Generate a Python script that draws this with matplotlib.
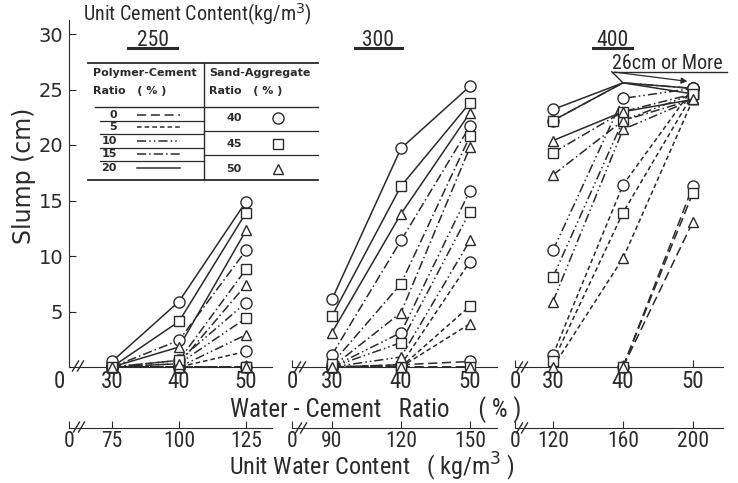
import numpy as np
import matplotlib.pyplot as plt
import matplotlib.font_manager as fm

nan = np.nan

# Data (slump in cm)
wc_ratio = [30, 40, 50]             # water-cement ratio (%)
polymer_ratio = [0, 5, 10, 15, 20]  # polymer-cement ratio (%)
sand_ratio = [40, 45, 50]           # sand-aggregate ratio (%)
cement_content = [250, 300, 400]    # unit cement content (kg/m3)

# slump_xxx[polymer index][sand index] = values at W/C 30, 40, 50
slump_250 = [
    [[0, 0, 0], [0, 0, 0], [0, 0, 0]],
    [[0, 0, 1.4], [0, 0, 0], [0, 0, 0]],
    [[0, 0.6, 5.8], [0, 0.3, 4.4], [0, 0, 2.9]],
    [[0, 2.4, 10.5], [0, 0.6, 8.8], [0, 0.3, 7.4]],
    [[0.5, 5.9, 14.9], [0, 4.1, 13.9], [0, 1.8, 12.3]],
]
slump_300 = [
    [[0, 0.2, 0.5], [0, 0, 0], [0, 0, 0]],
    [[0, 0.2, 9.5], [0, 0, 5.5], [0, 0, 3.9]],
    [[0, 3.1, 15.9], [0, 2.2, 14.0], [0, 0.9, 11.4]],
    [[1.1, 11.4, 21.7], [0.3, 7.5, 20.8], [0, 4.9, 19.8]],
    [[6.1, 19.7, 25.3], [4.6, 16.3, 23.8], [3.1, 13.8, 22.9]],
]
slump_400 = [
    [[nan, 0, 16.3], [nan, 0, 15.7], [nan, 0, 13.1]],
    [[1.1, 16.4, 25.1], [0.5, 13.9, 24.6], [0, 9.8, 24.1]],
    [[10.5, 24.2, 25.1], [8.1, 22.2, 24.6], [5.9, 21.4, 24.1]],
    [[22.2, 25.6, 25.1], [19.3, 23.0, 24.6], [17.3, 22.2, 24.1]],
    [[23.2, 25.6, 25.1], [22.2, 25.6, 24.6], [20.4, 23.0, 24.1]],
]
# series that reach "26cm or more" at W/C 40 (no marker drawn there)
over_26_400 = [(3, 0), (4, 0), (4, 1)]

# fonts: a narrow face like the scanned lettering, if one is installed
entries = fm.fontManager.ttflist
names = {f.name for f in entries}
narrow = dict(family='DejaVu Sans')
for cand in ['Liberation Sans Narrow', 'Roboto Condensed', 'Open Sans Condensed']:
    if cand in names:
        narrow = dict(family=cand)
        break
else:
    if any(f.name == 'DejaVu Sans' and 'condensed' in str(f.stretch) for f in entries):
        narrow = dict(family='DejaVu Sans', stretch='condensed')
    elif any(f.name == 'Roboto' and 'condensed' in str(f.stretch) for f in entries):
        narrow = dict(family='Roboto', stretch='condensed')
condensed_found = narrow != dict(family='DejaVu Sans')
# shrink sizes a little when only the wide face is available
fs = 1.0 if condensed_found else 0.85

ink = '#2b2b2b'
styles = [(0, (6, 3)), (0, (3, 2)), (0, (6, 2, 1, 2, 1, 2)), (0, (6, 2, 1, 2)), '-']
markers = ['o', 's', '^']
msizes = [8, 6.5, 7.5]

W, H = 738, 483
fig = plt.figure(figsize=(W / 100, H / 100), dpi=100)
fig.patch.set_facecolor('white')

# pixel layout: y of slump 0, px per cm, top of axis
y0_px, ppu_y, ymax = 367, 11.1, 31.3
ytop_px = y0_px - ymax * ppu_y
# (left, right, x at 30, x at 50) in pixels for each panel
panel_px = [(69, 272, 112, 246), (292, 497, 332, 470), (515, 723, 553, 693)]


def draw_panel(ax, data, skip40=()):
    for pi in range(len(polymer_ratio)):
        for si in range(len(sand_ratio)):
            y = np.array(data[pi][si], float)
            ax.plot(wc_ratio, y, linestyle=styles[pi], color=ink, lw=1.1,
                    zorder=2, clip_on=False)
            ym = y.copy()
            if (pi, si) in skip40:
                ym[1] = nan
            ax.plot(wc_ratio, ym, linestyle='none', marker=markers[si],
                    ms=msizes[si], mfc='white', mec=ink, mew=1.0,
                    zorder=3, clip_on=False)


def narrow_labels(labels, size):
    for t in labels:
        t.set_family(narrow['family'])
        if 'stretch' in narrow:
            t.set_stretch(narrow['stretch'])
        t.set_fontsize(size)


axes = []
for k, (l, r, x30, x50) in enumerate(panel_px):
    ax = fig.add_axes([l / W, 1 - y0_px / H, (r - l) / W, (y0_px - ytop_px) / H])
    ax.set_facecolor('none')
    ppx = (x50 - x30) / 20
    lo = 30 - (x30 - l) / ppx
    hi = 50 + (r - x50) / ppx
    ax.set_xlim(lo, hi)
    ax.set_ylim(0, ymax)
    for s in ['top', 'right']:
        ax.spines[s].set_visible(False)
    ax.spines['bottom'].set_color(ink)
    ax.spines['left'].set_color(ink)
    if k == 0:
        ax.set_yticks([5, 10, 15, 20, 25, 30])
        ax.tick_params(axis='y', direction='in', length=5, labelsize=14,
                       colors=ink, pad=4)
        ax.set_xticks([30, 40, 50])
    else:
        ax.spines['left'].set_visible(False)
        ax.set_yticks([])
        ax.set_xticks([lo, 30, 40, 50], ['0', '30', '40', '50'])
    ax.tick_params(axis='x', direction='in', length=5, colors=ink, pad=2)
    narrow_labels(ax.get_xticklabels(), 16.5 * fs)

    # unit water content axis below
    c = cement_content[k]
    sec = ax.secondary_xaxis(-(428 - y0_px) / (y0_px - ytop_px),
                             functions=(lambda x, c=c: x * c / 100,
                                        lambda w, c=c: w * 100 / c))
    sec.set_xticks([lo * c / 100] + [w * c / 100 for w in wc_ratio],
                   ['0'] + [str(int(w * c / 100)) for w in wc_ratio])
    sec.tick_params(axis='x', direction='in', length=5, colors=ink, pad=2)
    sec.spines['bottom'].set_color(ink)
    narrow_labels(sec.get_xticklabels(), 15.5 * fs)
    axes.append(ax)

draw_panel(axes[0], slump_250)
draw_panel(axes[1], slump_300)
draw_panel(axes[2], slump_400, skip40=over_26_400)

# "26cm or More" note for the 400 kg/m3 panel
a3 = axes[2]
a3.text(46.4, 27.3, '26cm or More', ha='center', va='center', fontsize=14.5 * fs,
        color=ink, **narrow)
a3.plot([38.4, 54.9], [26.6, 26.6], color=ink, lw=1.0, clip_on=False)
a3.plot([38.4, 40], [26.6, 25.6], color=ink, lw=1.0, clip_on=False)
a3.annotate('', xy=(49.6, 25.7), xytext=(38.4, 26.6),
            arrowprops=dict(arrowstyle='-|>', color=ink, lw=0.9,
                            mutation_scale=9), annotation_clip=False)

# overlay in pixel coordinates for titles, legend table and break marks
ov = fig.add_axes([0, 0, 1, 1])
ov.set_xlim(0, W)
ov.set_ylim(H, 0)
ov.axis('off')

ov.text(83, 15, 'Unit Cement Content(kg/m$^3$)', fontsize=14.5 * fs,
        color=ink, va='center', ha='left', **narrow)
for cc, cx, (u0, u1) in zip(cement_content, [153, 378, 612],
                            [(128, 177), (355, 402), (593, 632)]):
    ov.text(cx, 40, str(cc), fontsize=15.5 * fs, color=ink,
            ha='center', va='center', **narrow)
    ov.plot([u0, u1], [48, 48], color=ink, lw=2.2)

ov.text(24, 176, 'Slump (cm)', rotation=90, fontsize=17, color=ink,
        ha='center', va='center')
ov.text(59, 381, '0', fontsize=16.5 * fs, color=ink,
        ha='center', va='center', **narrow)
ov.text(376, 410, 'Water - Cement   Ratio     ( % )', fontsize=18 * fs,
        color=ink, ha='center', va='center', **narrow)
ov.text(372, 467, 'Unit Water Content   ( kg/m$^3$ )', fontsize=17.5 * fs,
        color=ink, ha='center', va='center', **narrow)

# axis break marks
for cx, cy in [(78, 366), (300, 367), (522, 367), (79, 427), (301, 428), (522, 428)]:
    for off in (-2.5, 2.5):
        ov.plot([cx + off - 3, cx + off + 3], [cy + 5, cy - 5], color=ink, lw=1.0)

# legend table
ov.plot([88, 318], [63, 63], color=ink, lw=1.3)
ov.plot([88, 318], [180, 180], color=ink, lw=1.3)
ov.plot([95, 318], [107, 107], color=ink, lw=1.0)
ov.plot([204, 204], [63, 180], color=ink, lw=1.0)
ov.text(93, 73, 'Polymer-Cement', fontsize=8, weight='bold', color=ink, va='center')
ov.text(93, 91, 'Ratio   ( % )', fontsize=8, weight='bold', color=ink, va='center')
ov.text(209, 73, 'Sand-Aggregate', fontsize=8, weight='bold', color=ink, va='center')
ov.text(209, 91, 'Ratio   ( % )', fontsize=8, weight='bold', color=ink, va='center')
row_y = [115, 127, 141, 154, 168]
for yy in [121, 134, 148, 161]:
    ov.plot([100, 204], [yy, yy], color=ink, lw=0.9)
for p, yy, ls in zip(polymer_ratio, row_y, styles):
    ov.text(117, yy, str(p), fontsize=8, weight='bold', color=ink,
            ha='right', va='center')
    ov.plot([137, 180], [yy, yy], color=ink, lw=1.1, linestyle=ls)
for yy in [131, 155]:
    ov.plot([204, 318], [yy, yy], color=ink, lw=0.9)
for s, yy, m, ms in zip(sand_ratio, [118, 144, 169], markers, msizes):
    ov.text(234, yy, str(s), fontsize=8, weight='bold', color=ink,
            ha='center', va='center')
    ov.plot([278], [yy], marker=m, ms=ms, mfc='white', mec=ink, mew=1.0)

fig.savefig('out.png', dpi=100, facecolor='white')
